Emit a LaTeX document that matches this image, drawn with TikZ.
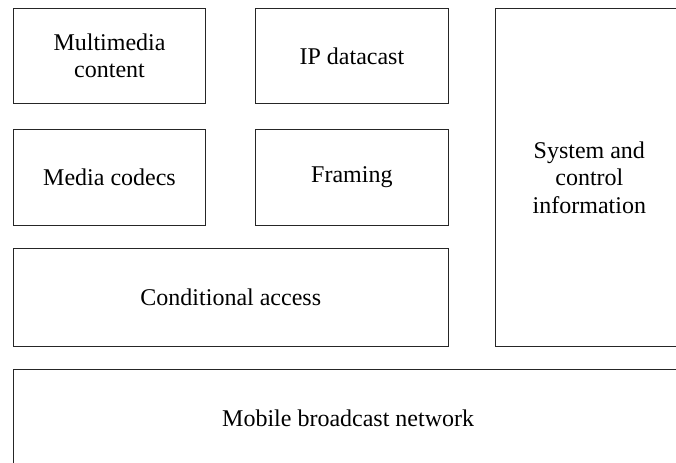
\documentclass[tikz,border=0pt]{standalone}
\usepackage{fontspec}
\setmainfont{Liberation Serif}

\tikzset{every picture/.style={line width=0.75pt}}
\tikzset{blockbox/.style={draw=black!85, align=center, inner sep=0pt, font=\fontsize{18}{20.5}\selectfont}}

\begin{document}
\begin{tikzpicture}[x=0.75pt,y=0.75pt,yscale=-1,xscale=1]
%set diagram left start at 0, width 676 and height 463
\useasboundingbox (0,0) rectangle (676,463);
\clip (0,0) rectangle (676,463);

%Shape: Rectangle [Multimedia content]
\node (mmcontent) [blockbox, minimum width=144.3pt, minimum height=71.4pt] at (109.5,55.9) {Multimedia\\content};
%Shape: Rectangle [IP datacast]
\node (ipdatacast) [blockbox, minimum width=144.6pt, minimum height=71.4pt] at (351.9,55.9) {IP datacast};
%Shape: Rectangle [Media codecs]
\node (codecs) [blockbox, minimum width=144.3pt, minimum height=72.5pt] at (109.5,177.35) {Media codecs};
%Shape: Rectangle [Framing]
\node (framing) [blockbox, minimum width=144.6pt, minimum height=72.5pt] at (351.9,177.35) {Framing};
%Shape: Rectangle [Conditional access]
\node (condaccess) [blockbox, minimum width=326.25pt, minimum height=73.5pt] at (230.8,297.7) {Conditional access};
%Shape: Rectangle [System and control information]
\node (sysctrl) [blockbox, minimum width=140.5pt, minimum height=253.8pt] at (589.35,177.5) {System and\\control\\information};
%Shape: Rectangle [Mobile broadcast network]
\node (network) [blockbox, minimum width=502.3pt, minimum height=73.9pt] at (348.15,418.75) {Mobile broadcast network};

\end{tikzpicture}
\end{document}
